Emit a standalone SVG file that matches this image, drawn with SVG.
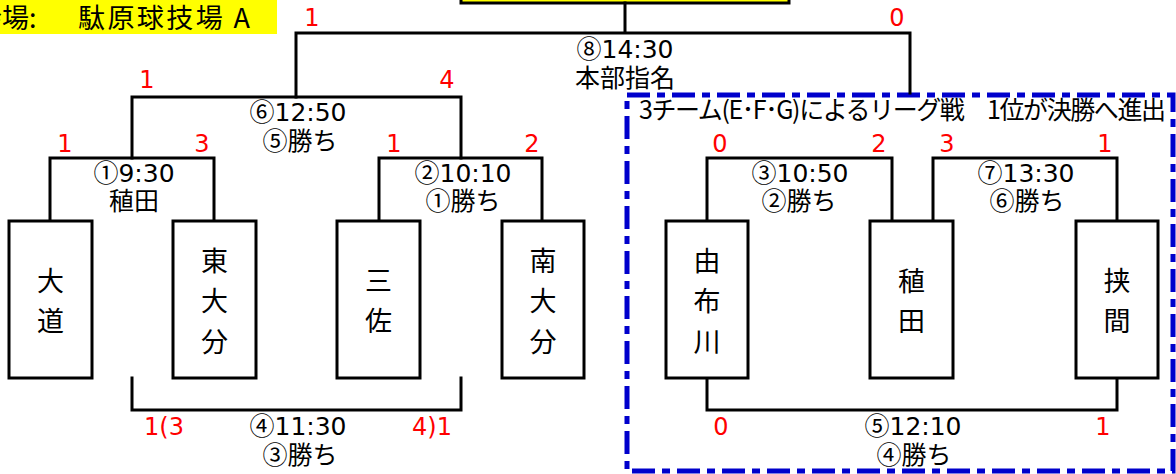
<svg xmlns="http://www.w3.org/2000/svg" width="1176" height="474" viewBox="0 0 1176 474">
<style>
.ln{stroke:#000;stroke-width:3;fill:none;stroke-linecap:square}
.box{fill:#fff;stroke:#000;stroke-width:3}
.t{font-family:"DejaVu Sans","Noto Sans CJK JP",sans-serif;font-size:25px;text-anchor:middle;fill:#000}
.c{font-family:"Noto Sans CJK JP",sans-serif}
.r{fill:#ff0000;font-size:24px}
.tm{font-family:"Noto Sans CJK JP",sans-serif;font-size:27px;text-anchor:middle;fill:#000}
.lg{stroke:#0000cc;stroke-width:5;fill:none;stroke-dasharray:23 7 8 7}
</style>
<g id="venue">
<rect x="0" y="0" width="277" height="34" fill="#ffff00"/>
<text class="t c" style="text-anchor:start;font-size:27px"><tspan x="-25" y="28">会場:</tspan><tspan x="78" y="28" textLength="172">駄原球技場 A</tspan></text>
</g>
<g id="final-box"><rect x="461" y="-20" width="328" height="23" fill="#ffff00" stroke="#000" stroke-width="3"/></g>
<g id="league-frame">
<rect class="lg" x="627" y="95" width="546" height="376"/>
<text class="t c" x="639" y="119" style="text-anchor:start;font-size:25px" textLength="527">3チーム(E･F･G)によるリーグ戦　1位が決勝へ進出</text>
</g>
<g id="connectors">
<path class="ln" d="M296,97 V33 H910 V93 M625,3 V33"/>
<path class="ln" d="M132,158 V97 H461 V158"/>
<path class="ln" d="M50,221 V158 H214 V221"/>
<path class="ln" d="M379,221 V158 H542 V221"/>
<path class="ln" d="M132,378 V410 H461 V378"/>
<path class="ln" d="M707,221 V158 H892 V221"/>
<path class="ln" d="M933,221 V158 H1117 V221"/>
<path class="ln" d="M707,378 V410 H1117 V378"/>
</g>
<g id="team-daido"><rect class="box" x="9" y="221" width="83" height="157"/><text class="tm"><tspan x="50.5" y="291">大</tspan><tspan x="50.5" y="331">道</tspan></text></g>
<g id="team-higashioita"><rect class="box" x="173" y="221" width="83" height="157"/><text class="tm"><tspan x="214.5" y="271">東</tspan><tspan x="214.5" y="311">大</tspan><tspan x="214.5" y="352">分</tspan></text></g>
<g id="team-misa"><rect class="box" x="337" y="221" width="83" height="157"/><text class="tm"><tspan x="378.5" y="291">三</tspan><tspan x="378.5" y="331">佐</tspan></text></g>
<g id="team-minamioita"><rect class="box" x="502" y="221" width="82" height="157"/><text class="tm"><tspan x="543" y="271">南</tspan><tspan x="543" y="311">大</tspan><tspan x="543" y="352">分</tspan></text></g>
<g id="team-yufugawa"><rect class="box" x="666" y="221" width="82" height="157"/><text class="tm"><tspan x="707" y="271">由</tspan><tspan x="707" y="311">布</tspan><tspan x="707" y="352">川</tspan></text></g>
<g id="team-wasada"><rect class="box" x="870" y="221" width="83" height="157"/><text class="tm"><tspan x="911.5" y="291">稙</tspan><tspan x="911.5" y="331">田</tspan></text></g>
<g id="team-hasama"><rect class="box" x="1076" y="221" width="82" height="157"/><text class="tm"><tspan x="1117" y="291">挟</tspan><tspan x="1117" y="331">間</tspan></text></g>
<g id="labels">
<text class="t" x="625" y="58"><tspan class="c">⑧</tspan>14:30</text>
<text class="t c" x="625" y="87">本部指名</text>
<text class="t" x="298" y="121"><tspan class="c">⑥</tspan>12:50</text>
<text class="t c" x="300" y="150">⑤勝ち</text>
<text class="t" x="134" y="182"><tspan class="c">①</tspan>9:30</text>
<text class="t c" x="134" y="210">稙田</text>
<text class="t" x="463" y="182"><tspan class="c">②</tspan>10:10</text>
<text class="t c" x="463" y="210">①勝ち</text>
<text class="t" x="800" y="182"><tspan class="c">③</tspan>10:50</text>
<text class="t c" x="799" y="210">②勝ち</text>
<text class="t" x="1026" y="182"><tspan class="c">⑦</tspan>13:30</text>
<text class="t c" x="1027" y="210">⑥勝ち</text>
<text class="t" x="298" y="435"><tspan class="c">④</tspan>11:30</text>
<text class="t c" x="300" y="464">③勝ち</text>
<text class="t" x="913" y="435"><tspan class="c">⑤</tspan>12:10</text>
<text class="t c" x="914" y="464">④勝ち</text>
</g>
<g id="scores">
<text class="t r" x="312" y="26">1</text>
<text class="t r" x="897" y="26">0</text>
<text class="t r" x="147" y="88">1</text>
<text class="t r" x="447" y="88">4</text>
<text class="t r" x="65" y="152">1</text>
<text class="t r" x="202" y="152">3</text>
<text class="t r" x="394" y="152">1</text>
<text class="t r" x="532" y="152">2</text>
<text class="t r" x="720" y="152">0</text>
<text class="t r" x="879" y="152">2</text>
<text class="t r" x="947" y="152">3</text>
<text class="t r" x="1105" y="152">1</text>
<text class="t r" x="164" y="435">1(3</text>
<text class="t r" x="432" y="435">4)1</text>
<text class="t r" x="721" y="435">0</text>
<text class="t r" x="1103" y="435">1</text>
</g>
</svg>
